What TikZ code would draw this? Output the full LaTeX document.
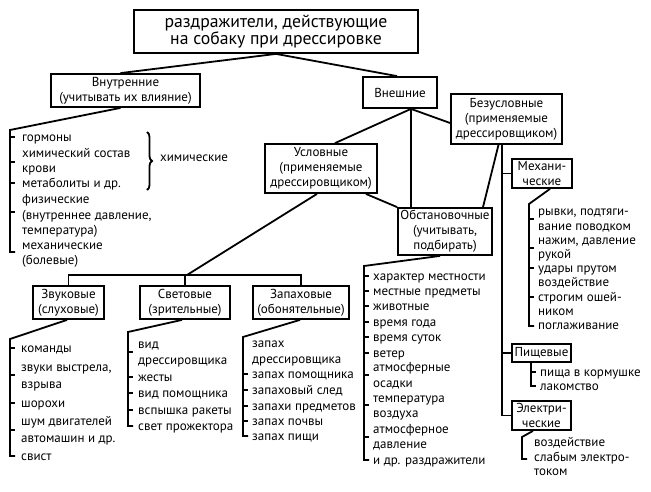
\documentclass[tikz,border=0pt]{standalone}
\usepackage{fontspec}
\setmainfont{PT Sans}
\usetikzlibrary{decorations.pathreplacing}
\newcommand{\itf}{\fontsize{13}{15}\selectfont}
\newcommand{\ttlf}{\fontsize{17.7}{19}\selectfont}
\tikzset{
  box/.style={draw, line width=1.8pt, align=center, inner sep=0pt, font=\itf},
  link/.style={line width=1.8pt},
  tick/.style={line width=1.8pt},
  item/.style={anchor=base west, inner sep=0pt, font=\itf},
}
\begin{document}
\begin{tikzpicture}[x=1pt,y=-1pt]
\useasboundingbox[fill=white] (0,0) rectangle (651,492);

% boxes
\node[box, minimum width=284pt, minimum height=43pt, font=\ttlf] (top) at (276,31.5) {раздражители, действующие\\[-2pt]на собаку при дрессировке};
\node[box, minimum width=149pt, minimum height=33pt] (vnutr) at (125.5,90.5) {Внутренние\\(учитывать их влияние)};
\node[box, minimum width=74pt, minimum height=31pt] (vnesh) at (400,92.5) {Внешние};
\node[box, minimum width=111pt, minimum height=50pt] (bezusl) at (506.5,119) {Безусловные\\(применяемые\\дрессировщиком)};
\node[box, minimum width=112pt, minimum height=49pt] (uslov) at (321,168.5) {Условные\\(применяемые\\дрессировщиком)};
\node[box, minimum width=94pt, minimum height=47pt] (obstan) at (445,231.5) {Обстановочные\\(учитывать,\\подбирать)};
\node[box, minimum width=60pt, minimum height=29pt] (mech) at (542,173.5) {Механи-\\ческие};
\node[box, minimum width=59pt, minimum height=18pt] (pishch) at (541.5,353) {Пищевые};
\node[box, minimum width=59pt, minimum height=29pt] (elektr) at (541.5,415.5) {Электри-\\ческие};
\node[box, minimum width=71pt, minimum height=33pt] (zvuk) at (68.5,302.5) {Звуковые\\(слуховые)};
\node[box, minimum width=90pt, minimum height=33pt] (svet) at (185,302.5) {Световые\\(зрительные)};
\node[box, minimum width=96pt, minimum height=33pt] (zapah) at (301,302.5) {Запаховые\\(обонятельные)};

% main connectors
\draw[link] (top.south) -- ([xshift=-5pt]vnutr.north);
\draw[link] (top.south) -- ([xshift=-3pt]vnesh.north);
\coordinate (vb) at ([xshift=11pt]vnesh.south);
\draw[link] (vb) -- ([xshift=14pt]uslov.north);
\draw[link] (vb) -- (vb |- obstan.north);
\draw[link] (vb) -- ([yshift=-4pt]bezusl.west);
\draw[link] ([xshift=-12pt]uslov.south east) -- (obstan.north west);
\draw[link] ([xshift=-8pt]bezusl.south) -- ([xshift=38pt]obstan.north);
\coordinate (bv) at ([xshift=-4.5pt]bezusl.south);
\draw[link] (bv) |- (elektr.west);
\draw[link] (bv |- mech.west) -- (mech.west);
\draw[link] (bv |- pishch.west) -- (pishch.west);
\coordinate (hub) at (187,275);
\draw[link] ([xshift=-4pt]uslov.south) -- (hub);
\draw[link] (zvuk.north) |- (hub) -| (zapah.north);
\draw[link] (svet.north) -- (svet.north |- hub);

% Vnutrennie list
\coordinate (l1) at (10,130);
\draw[link] ([xshift=-5pt]vnutr.south) -- (l1) -- (10,252) -- (15,252);
\foreach \yy in {137,162,183,212} \draw[tick] (10,\yy) -- (15,\yy);
\foreach \yy/\txt [count=\i] in {138/гормоны,154/химический состав,168/крови,183/метаболиты и др.,200/физические,215/{(внутреннее давление,},230/температура),245/механические,260/(болевые)}
  \node[item] (vn\i) at (22,\yy+4) {\txt};
\draw[link, decorate, decoration={brace, amplitude=5pt}] (147,132) -- (147,190);
\node[anchor=west, inner sep=0pt, font=\itf] (chem) at (160,158) {химические};

% Zvukovye list
\coordinate (l2) at (10,339);
\draw[link] ([xshift=-1.5pt]zvuk.south) -- (l2) -- (10,456) -- (15,456);
\foreach \yy in {348,375,403,430} \draw[tick] (10,\yy) -- (15,\yy);
\foreach \yy/\txt [count=\i] in {348/команды,367/{звуки выстрела,},384/взрыва,403/шорохи,421/шум двигателей,438/автомашин и др.,456/свист}
  \node[item] (zv\i) at (21,\yy+4) {\txt};

% Svetovye list
\coordinate (l3) at (128,332);
\draw[link] ([xshift=-3pt]svet.south) -- (l3) -- (128,426) -- (133,426);
\foreach \yy in {352,377,393,410} \draw[tick] (128,\yy) -- (133,\yy);
\foreach \yy/\txt [count=\i] in {344/вид,360/дрессировщика,377/жесты,393/вид помощника,410/вспышка ракеты,426/свет прожектора}
  \node[item] (sv\i) at (138,\yy+4) {\txt};

% Zapahovye list
\coordinate (l4) at (243,337);
\draw[link] ([xshift=-1pt]zapah.south) -- (l4) -- (243,436) -- (248,436);
\foreach \yy in {374,390,406,421} \draw[tick] (243,\yy) -- (248,\yy);
\foreach \yy/\txt [count=\i] in {343/запах,359/дрессировщика,374/запах помощника,390/запаховый след,406/запахи предметов,421/запах почвы,436/запах пищи}
  \node[item] (zp\i) at (252,\yy+4) {\txt};

% Obstanovochnye list
\coordinate (l5) at (364,266);
\draw[link] ([xshift=-5pt]obstan.south) -- (l5) -- (364,460) -- (369,460);
\foreach \yy in {276,291,306,322,337,353,375,405,437} \draw[tick] (364,\yy) -- (369,\yy);
\foreach \yy/\txt [count=\i] in {276/характер местности,291/местные предметы,306/животные,322/время года,337/время суток,353/ветер,367/атмосферные,383/осадки,398/температура,413/воздуха,429/атмосферное,444/давление,460/и др. раздражители}
  \node[item] (ob\i) at (373,\yy+4) {\txt};

% Mechanicheskie list
\coordinate (l6) at (529,204);
\draw[link] ([xshift=8pt]mech.south) -- (l6) -- (529,326) -- (534,326);
\foreach \yy in {219,248,268,297} \draw[tick] (529,\yy) -- (534,\yy);
\foreach \yy/\txt [count=\i] in {211/{рывки, подтяги-},226/вание поводком,240/{нажим, давление},254/рукой,268/удары прутом,282/воздействие,297/строгим ошей-,311/ником,325/поглаживание}
  \node[item] (me\i) at (538,\yy+4) {\txt};

% Pishchevye list
\coordinate (l7) at (531,362);
\draw[link] (l7) -- (531,386) -- (536,386);
\draw[tick] (531,372) -- (536,372);
\foreach \yy/\txt [count=\i] in {372/пища в кормушке,386/лакомство}
  \node[item] (pi\i) at (540,\yy+4) {\txt};

% Elektricheskie list
\coordinate (l8) at (522,437);
\draw[link] ([xshift=-8.5pt]elektr.south) -- (l8) -- (522,459) -- (527,459);
\foreach \yy/\txt [count=\i] in {442/воздействие,457/слабым электро-,471/током}
  \node[item] (el\i) at (534,\yy+4) {\txt};
\end{tikzpicture}
\end{document}
